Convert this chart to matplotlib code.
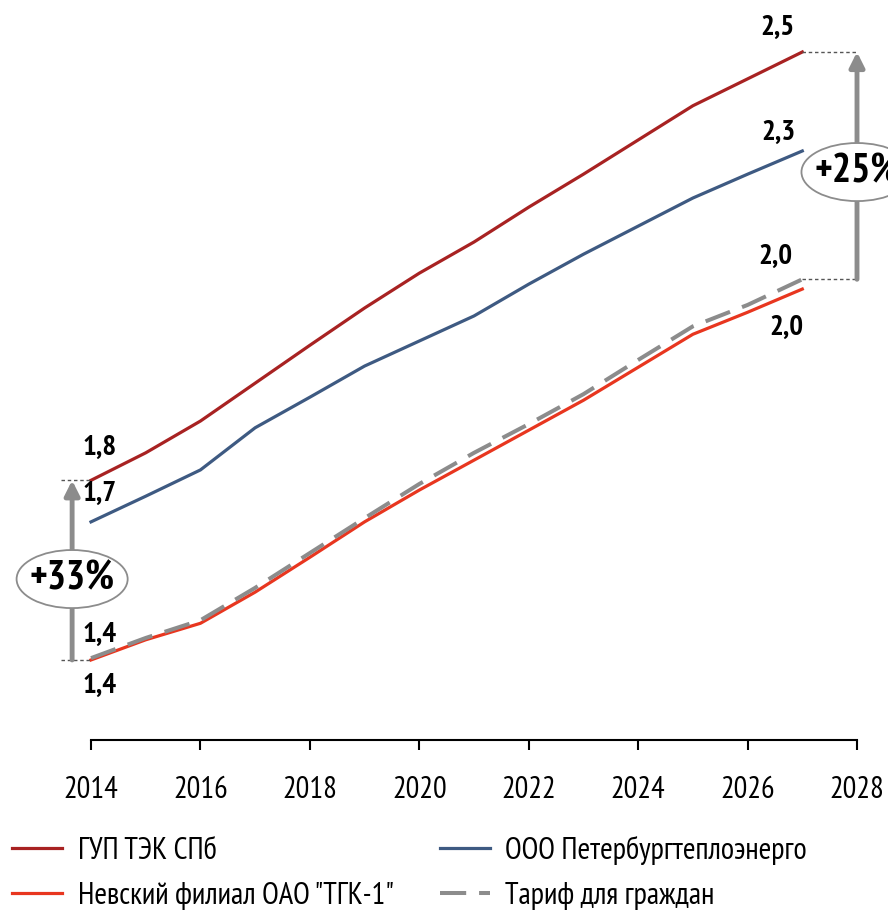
import matplotlib.pyplot as plt
import matplotlib.font_manager as fm
from matplotlib.patches import Ellipse

# narrow sans like the original (Arial Narrow), first one that is installed
installed = set(f.name for f in fm.fontManager.ttflist)
for cand in ['Liberation Sans Narrow', 'Arial Narrow', 'PT Sans Narrow', 'Roboto Condensed',
             'Open Sans Condensed', 'Sofia Sans Condensed', 'Liberation Sans']:
    if cand in installed:
        font = cand
        break
plt.rcParams['font.family'] = [font, 'Liberation Sans', 'DejaVu Sans']

years = list(range(2014, 2028))
gup = [1.734, 1.779, 1.831, 1.893, 1.955, 2.016, 2.073, 2.124, 2.181, 2.235, 2.291, 2.347, 2.391, 2.435]
ooo = [1.666, 1.708, 1.751, 1.820, 1.870, 1.921, 1.962, 2.003, 2.055, 2.104, 2.150, 2.196, 2.235, 2.273]
nevsky = [1.440, 1.473, 1.500, 1.551, 1.608, 1.666, 1.718, 1.767, 1.816, 1.865, 1.919, 1.973, 2.009, 2.047]
tariff = [1.443, 1.476, 1.505, 1.558, 1.615, 1.672, 1.728, 1.779, 1.826, 1.875, 1.931, 1.986, 2.021, 2.063]

names = ['ГУП ТЭК СПб', 'ООО Петербургтеплоэнерго', 'Невский филиал ОАО "ТГК-1"', 'Тариф для граждан']
colors = ['#A82222', '#3E5A82', '#E8361F', '#8C8C8C']
xticks = [2014, 2016, 2018, 2020, 2022, 2024, 2026, 2028]

fig = plt.figure(figsize=(8.88, 9.10), dpi=100)
ax = fig.add_axes([91/888, 170/910, 766/888, 710/910])
ax.set_xlim(2014, 2028)
ax.set_ylim(1.309, 2.471)

lw = 2.3
l1, = ax.plot(years, gup, color=colors[0], lw=lw, clip_on=False)
l2, = ax.plot(years, ooo, color=colors[1], lw=lw, clip_on=False)
l3, = ax.plot(years, nevsky, color=colors[2], lw=lw, clip_on=False)
l4, = ax.plot(years, tariff, color=colors[3], lw=lw + 0.6, ls=(0, (6.5, 3.2)), clip_on=False)

# axes look
for s in ['left', 'right', 'top']:
    ax.spines[s].set_visible(False)
ax.spines['bottom'].set_linewidth(1.5)
ax.set_yticks([])
ax.set_xticks(xticks)
ax.tick_params(axis='x', direction='out', length=7, width=1.5, pad=19, labelsize=22)

# value labels
lab = dict(fontsize=21, fontweight='bold', ha='center', va='center',
           textcoords='offset points')
ax.annotate('1,8', (years[0], gup[0]), xytext=(6.5, 23), **lab)
ax.annotate('1,7', (years[0], ooo[0]), xytext=(6.5, 20), **lab)
ax.annotate('1,4', (years[0], nevsky[0]), xytext=(6.5, 18), **lab)
ax.annotate('1,4', (years[0], nevsky[0]), xytext=(6.5, -19), **lab)
ax.annotate('2,5', (years[-1], gup[-1]), xytext=(-18, 17.5), **lab)
ax.annotate('2,3', (years[-1], ooo[-1]), xytext=(-17, 13), **lab)
ax.annotate('2,0', (years[-1], tariff[-1]), xytext=(-19, 16), **lab)
ax.annotate('2,0', (years[-1], nevsky[-1]), xytext=(-11.5, -28), **lab)

# growth arrows
grey = '#8C8C8C'
ax_left = years[0] - 0.345
ax_right = 2028
for xa, lo, hi, x0 in [(ax_left, nevsky[0], gup[0], years[0]),
                       (ax_right, tariff[-1], gup[-1], years[-1])]:
    xs = [min(xa, x0) - (0.2 if xa < x0 else 0), max(xa, x0)]
    ax.plot(xs, [lo, lo], ls=(0, (2.5, 2)), color='#555555', lw=1, clip_on=False)
    ax.plot(xs, [hi, hi], ls=(0, (2.5, 2)), color='#555555', lw=1, clip_on=False)
    ax.annotate('', xy=(xa, hi), xytext=(xa, lo), annotation_clip=False,
                arrowprops=dict(arrowstyle='-|>', color=grey, lw=3.5,
                                mutation_scale=22, shrinkA=0, shrinkB=0))

# percent bubbles
for xc, yc, txt in [(ax_left, 1.5724, '+33%'), (ax_right, 2.2385, '+25%')]:
    ax.add_patch(Ellipse((xc, yc), 2.03, 0.095, fc='white', ec='#8C8C8C', lw=1.3,
                         clip_on=False, zorder=4))
    ax.text(xc, yc, txt, fontsize=29, fontweight='bold', ha='center', va='center',
            zorder=5, clip_on=False)

handles = [l1, l3, l2, l4]
labels = [names[0], names[2], names[1], names[3]]
fig.legend(handles, labels, ncol=2, loc='upper left', bbox_to_anchor=(12/888, 1 - 836/910),
           frameon=False, fontsize=22, handlelength=1.65, handletextpad=0.5,
           columnspacing=1.5, labelspacing=0.55, borderpad=0, borderaxespad=0)

plt.savefig('out.png', dpi=100)
